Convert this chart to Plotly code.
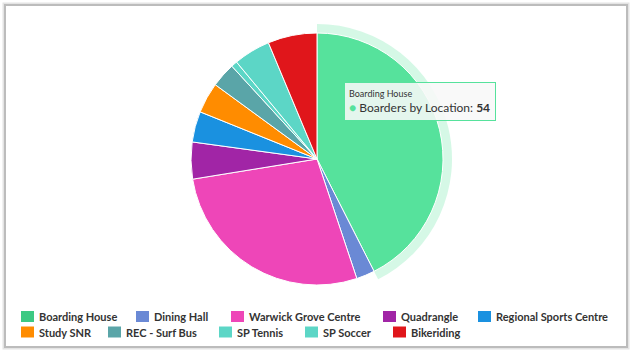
import plotly.graph_objects as go

# ---- data ----
categories = ["Boarding House", "Dining Hall", "Warwick Grove Centre", "Quadrangle",
              "Regional Sports Centre", "Study SNR", "REC - Surf Bus", "SP Tennis",
              "SP Soccer", "Bikeriding"]
values = [54, 3, 35, 6, 5, 5, 4, 1, 6, 8]
series_name = "Boarders by Location"
colors = ["#3dc983", "#6a89d5", "#ee46b8", "#a125a6", "#1a91e0",
          "#ff8c00", "#5aa5a8", "#5cd6c6", "#5cd6c6", "#e0161b"]
hover_index = 0

W, H = 632, 354


def brighten(hexcol, amt=0.1):
    h = hexcol.lstrip("#")
    r, g, b = (int(h[i:i + 2], 16) for i in (0, 2, 4))
    f = lambda c: min(255, int(c + 255 * amt))
    return "#%02x%02x%02x" % (f(r), f(g), f(b))


def hex_rgba(hexcol, a):
    h = hexcol.lstrip("#")
    r, g, b = (int(h[i:i + 2], 16) for i in (0, 2, 4))
    return "rgba(%d,%d,%d,%s)" % (r, g, b, a)


pie_colors = list(colors)
pie_colors[hover_index] = brighten(colors[hover_index])
halo_colors = ["rgba(0,0,0,0)"] * len(values)
halo_colors[hover_index] = hex_rgba(pie_colors[hover_index], 0.25)

# pie geometry (pixels)
cx, cy, R, halo = 317, 159, 126, 9


def dom(r):
    return dict(x=[(cx - r) / W, (cx + r) / W],
                y=[(H - cy - r) / H, (H - cy + r) / H])


fig = go.Figure()
fig.add_trace(go.Pie(labels=categories, values=values, sort=False, direction="clockwise",
                     rotation=0, textinfo="none", hoverinfo="skip", showlegend=False,
                     marker=dict(colors=halo_colors, line=dict(width=0)),
                     domain=dom(R + halo)))
fig.add_trace(go.Pie(labels=categories, values=values, sort=False, direction="clockwise",
                     rotation=0, textinfo="none", hoverinfo="skip", showlegend=False,
                     marker=dict(colors=pie_colors, line=dict(color="white", width=1)),
                     domain=dom(R)))

shapes = []
annotations = []

# frame
shapes.append(dict(type="rect", xref="paper", yref="paper",
                   x0=3.5 / W, x1=628.5 / W, y0=1 - 348.5 / H, y1=1 - 3.5 / H,
                   line=dict(color="#e4e4e4", width=2)))
shapes.append(dict(type="rect", xref="paper", yref="paper",
                   x0=5 / W, x1=627 / W, y0=1 - 347 / H, y1=1 - 5 / H,
                   line=dict(color="#bcbcbc", width=2)))

# legend (flow layout like the original)
legend_sym_x = [21, 136, 231, 383, 478, 21, 108, 219, 305, 393]
legend_row_y = [316.5, 316.5, 316.5, 316.5, 316.5, 332, 332, 332, 332, 332]
for i, name in enumerate(categories):
    sx, sy = legend_sym_x[i], legend_row_y[i]
    shapes.append(dict(type="rect", xref="paper", yref="paper",
                       x0=sx / W, x1=(sx + 13) / W,
                       y0=1 - (sy + 5.5) / H, y1=1 - (sy - 5.5) / H,
                       fillcolor=colors[i], line=dict(width=0)))
    annotations.append(dict(text="<b>%s</b>" % name, xref="paper", yref="paper",
                            x=(sx + 16) / W, y=1 - sy / H, xanchor="left", yanchor="middle",
                            showarrow=False,
                            font=dict(family="Lato", size=11, color="#333333")))

# tooltip
tip = ("<span style='font-size:9px'>%s</span><br>"
       "<span style='color:%s;font-size:12px'>●</span> %s: <b>%d</b>"
       % (categories[hover_index], pie_colors[hover_index], series_name, values[hover_index]))
annotations.append(dict(text=tip, xref="paper", yref="paper",
                        x=344 / W, y=1 - 82 / H, xanchor="left", yanchor="top",
                        showarrow=False, align="left", valign="middle",
                        width=142, height=29, borderpad=4, borderwidth=1,
                        bordercolor=pie_colors[hover_index],
                        bgcolor="rgba(248,248,248,0.88)",
                        font=dict(family="Lato", size=12, color="#333333")))

fig.update_layout(width=W, height=H, margin=dict(l=0, r=0, t=0, b=0),
                  paper_bgcolor="white", plot_bgcolor="white",
                  shapes=shapes, annotations=annotations, showlegend=False)

fig.write_html("out.html")
